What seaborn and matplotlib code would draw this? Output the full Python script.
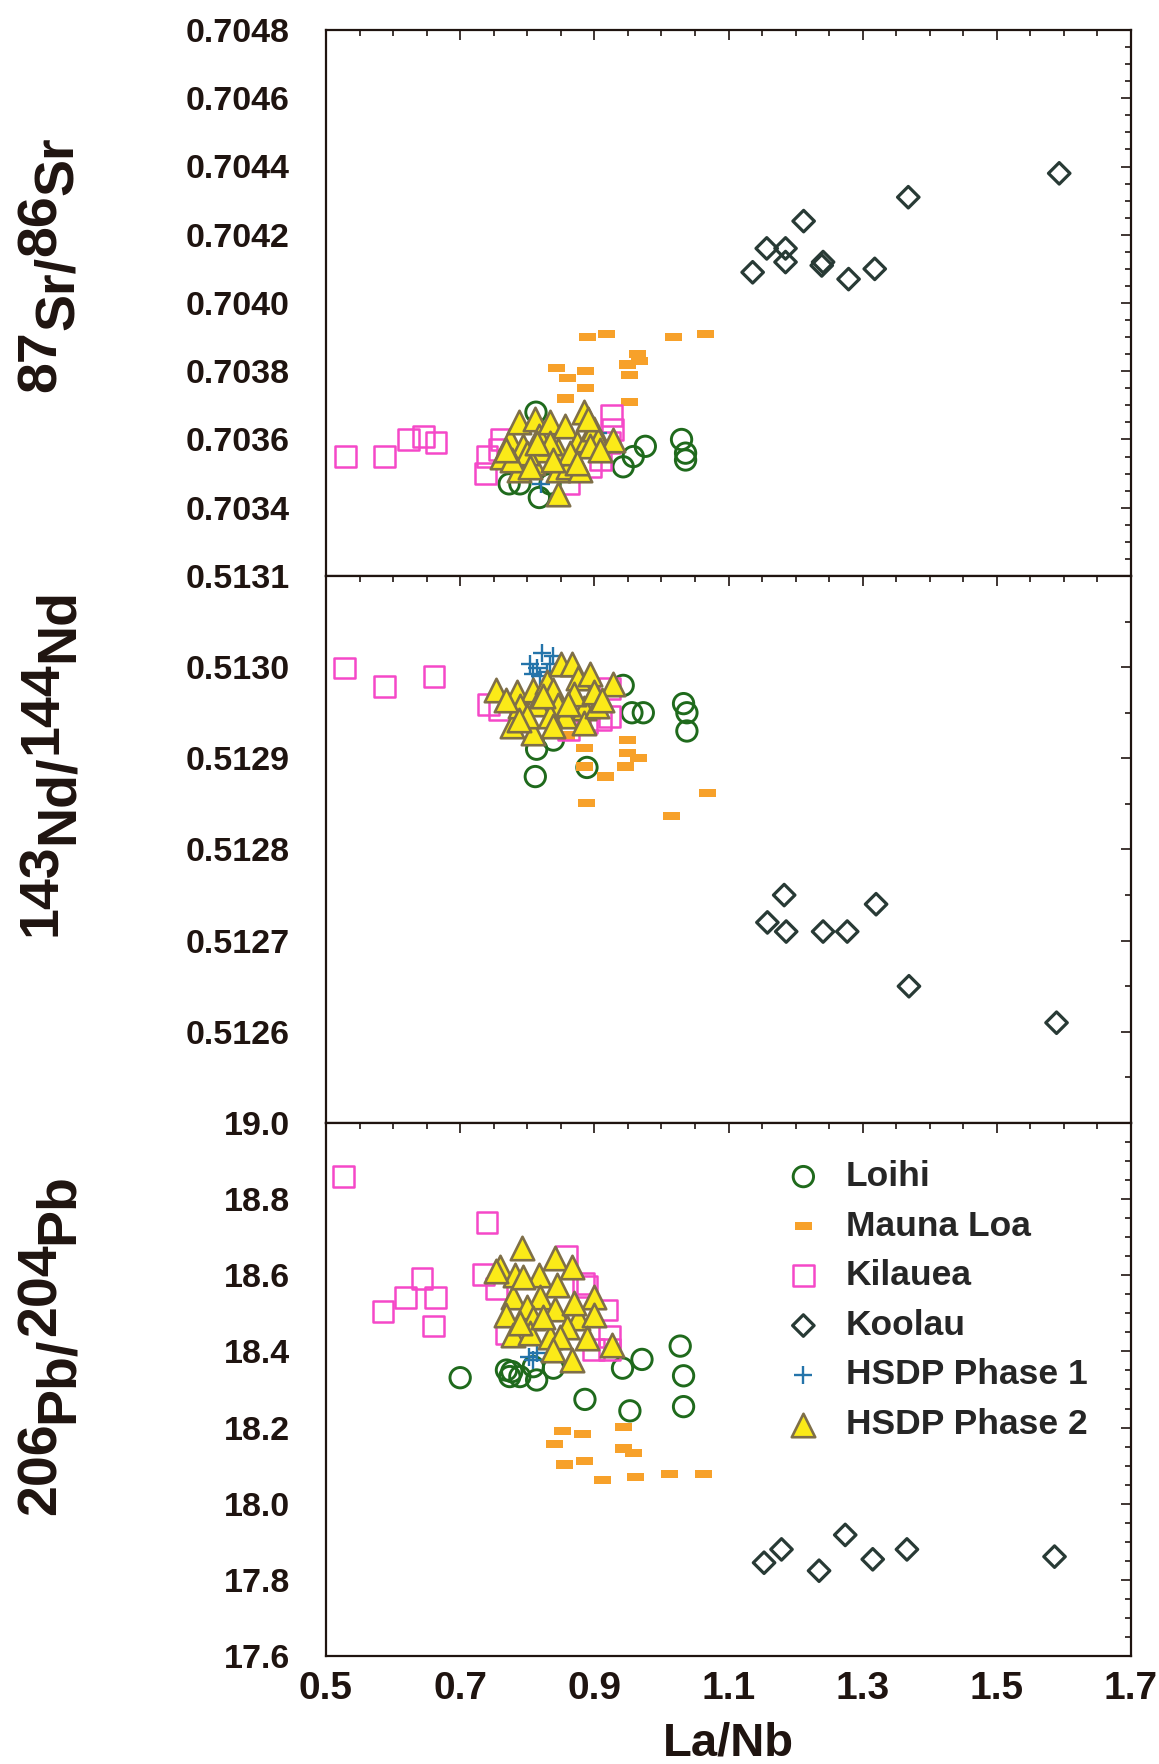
import numpy as np
import pandas as pd
import matplotlib
matplotlib.use("Agg")
import matplotlib.pyplot as plt
import seaborn as sns
from matplotlib import font_manager
from matplotlib.ticker import MultipleLocator, FixedLocator, FuncFormatter

# ---------------- 87Sr/86Sr vs La/Nb ----------------
loihi_sr_lanb = [0.813, 0.773, 0.789, 0.818, 0.834, 0.943, 0.958, 0.976, 1.030, 1.036, 1.036]
loihi_sr = [0.70368, 0.70347, 0.70347, 0.70343, 0.70347, 0.70352, 0.70355, 0.70358, 0.70360, 0.70356, 0.70354]

maunaloa_sr_lanb = [0.918, 0.890, 1.018, 1.066, 0.964, 0.967, 0.949, 0.952, 0.844, 0.887, 0.860, 0.887, 0.857, 0.952]
maunaloa_sr = [0.70391, 0.70390, 0.70390, 0.70391, 0.70385, 0.70383, 0.70382, 0.70379, 0.70381, 0.70380,
               0.70378, 0.70375, 0.70372, 0.70371]

kilauea_sr_lanb = [0.529, 0.587, 0.623, 0.645, 0.664, 0.740, 0.738, 0.762, 0.926, 0.927, 0.923, 0.909, 0.894,
                   0.861, 0.759]
kilauea_sr = [0.70355, 0.70355, 0.70360, 0.70361, 0.70359, 0.70355, 0.70350, 0.70360, 0.70367, 0.70363, 0.70359,
              0.70354, 0.70352, 0.70347, 0.70357]

koolau_sr_lanb = [1.136, 1.157, 1.185, 1.185, 1.212, 1.239, 1.241, 1.279, 1.318, 1.368, 1.593]
koolau_sr = [0.70409, 0.70416, 0.70416, 0.70412, 0.70424, 0.70411, 0.70412, 0.70407, 0.70410, 0.70431, 0.70438]

hsdp1_sr_lanb = [0.821, 0.905]
hsdp1_sr = [0.70347, 0.70362]

hsdp2_sr_lanb = [0.762, 0.774, 0.787, 0.794, 0.812, 0.817, 0.809, 0.787, 0.834, 0.856, 0.846, 0.874, 0.884,
                 0.889, 0.899, 0.906, 0.928, 0.846, 0.861, 0.879, 0.846, 0.819, 0.834, 0.864, 0.799, 0.777,
                 0.804, 0.894, 0.909, 0.874, 0.839, 0.891, 0.814, 0.769]
hsdp2_sr = [0.70355, 0.70360, 0.70365, 0.70358, 0.70366, 0.70361, 0.70353, 0.70351, 0.70365, 0.70364, 0.70357,
            0.70359, 0.70368, 0.70360, 0.70363, 0.70360, 0.70360, 0.70351, 0.70352, 0.70351, 0.70344, 0.70357,
            0.70359, 0.70356, 0.70356, 0.70354, 0.70352, 0.70358, 0.70357, 0.70353, 0.70354, 0.70366, 0.70359,
            0.70357]

# ---------------- 143Nd/144Nd vs La/Nb ----------------
loihi_nd_lanb = [0.943, 0.956, 0.973, 1.033, 1.038, 1.038, 0.839, 0.814, 0.812, 0.889]
loihi_nd = [0.51298, 0.51295, 0.51295, 0.51296, 0.51295, 0.51293, 0.51292, 0.51291, 0.51288, 0.51289]

maunaloa_nd_lanb = [0.859, 0.886, 0.949, 0.949, 0.966, 0.946, 0.886, 0.916, 0.888, 1.068, 1.015]
maunaloa_nd = [0.512925, 0.512911, 0.512920, 0.512906, 0.512900, 0.512891, 0.512891, 0.512880, 0.512851,
               0.512862, 0.512837]

kilauea_nd_lanb = [0.528, 0.587, 0.661, 0.742, 0.923, 0.923, 0.909, 0.889, 0.759, 0.861]
kilauea_nd = [0.512999, 0.512979, 0.512990, 0.512959, 0.512977, 0.512946, 0.512942, 0.512939, 0.512953, 0.512931]

koolau_nd_lanb = [1.183, 1.158, 1.186, 1.241, 1.277, 1.320, 1.369, 1.589]
koolau_nd = [0.51275, 0.51272, 0.51271, 0.51271, 0.51271, 0.51274, 0.51265, 0.51261]

hsdp1_nd_lanb = [0.822, 0.804, 0.814, 0.834, 0.809, 0.829, 0.839, 0.819]
hsdp1_nd = [0.513015, 0.513003, 0.512999, 0.513004, 0.512993, 0.512995, 0.513012, 0.512990]

hsdp2_nd_lanb = [0.754, 0.784, 0.809, 0.829, 0.851, 0.866, 0.876, 0.894, 0.928, 0.839, 0.814, 0.846, 0.884,
                 0.777, 0.809, 0.856, 0.884, 0.904, 0.789, 0.834, 0.769, 0.799, 0.869, 0.899, 0.911, 0.824,
                 0.861, 0.787, 0.839]
hsdp2_nd = [0.512975, 0.512973, 0.512975, 0.512984, 0.513004, 0.513004, 0.512988, 0.512993, 0.512982, 0.512975,
            0.512960, 0.512959, 0.512955, 0.512935, 0.512928, 0.512946, 0.512939, 0.512957, 0.512957, 0.512946,
            0.512964, 0.512946, 0.512971, 0.512973, 0.512964, 0.512968, 0.512960, 0.512942, 0.512935]

# ---------------- 206Pb/204Pb vs La/Nb ----------------
loihi_pb_lanb = [0.700, 0.769, 0.774, 0.777, 0.789, 0.814, 0.839, 0.886, 0.942, 0.971, 0.953, 1.028, 1.033,
                 1.033, 0.809]
loihi_pb = [18.331, 18.351, 18.334, 18.347, 18.334, 18.325, 18.356, 18.274, 18.356, 18.379, 18.244, 18.414,
            18.336, 18.255, 18.360]

maunaloa_pb_lanb = [0.853, 0.883, 0.944, 0.841, 0.943, 0.959, 0.856, 0.886, 0.912, 0.962, 1.012, 1.063]
maunaloa_pb = [18.191, 18.183, 18.201, 18.156, 18.145, 18.134, 18.103, 18.112, 18.062, 18.071, 18.078, 18.077]

kilauea_pb_lanb = [0.526, 0.740, 0.735, 0.643, 0.619, 0.663, 0.585, 0.660, 0.858, 0.889, 0.918, 0.923, 0.923,
                   0.754, 0.769, 0.899, 0.884]
kilauea_pb = [18.859, 18.738, 18.603, 18.592, 18.541, 18.541, 18.504, 18.467, 18.649, 18.570, 18.509, 18.439,
              18.404, 18.566, 18.448, 18.404, 18.579]

koolau_pb_lanb = [1.153, 1.179, 1.235, 1.274, 1.315, 1.366, 1.586]
koolau_pb = [17.845, 17.880, 17.824, 17.918, 17.854, 17.880, 17.861]

hsdp1_pb_lanb = [0.802, 0.814, 0.809]
hsdp1_pb = [18.386, 18.395, 18.377]

hsdp2_pb_lanb = [0.792, 0.759, 0.782, 0.817, 0.841, 0.866, 0.844, 0.779, 0.819, 0.899, 0.799, 0.841, 0.876,
                 0.899, 0.769, 0.809, 0.859, 0.889, 0.779, 0.804, 0.834, 0.926, 0.866, 0.794, 0.754, 0.824,
                 0.849, 0.869, 0.789, 0.839]
hsdp2_pb = [18.671, 18.623, 18.601, 18.601, 18.645, 18.623, 18.575, 18.544, 18.544, 18.544, 18.518, 18.511,
            18.487, 18.496, 18.496, 18.487, 18.465, 18.434, 18.443, 18.448, 18.439, 18.417, 18.378, 18.596,
            18.610, 18.491, 18.439, 18.526, 18.474, 18.404]

groups = ["Loihi", "Mauna Loa", "Kilauea", "Koolau", "HSDP Phase 1", "HSDP Phase 2"]
x_tick_labels = ["0.5", "0.7", "0.9", "1.1", "1.3", "1.5", "1.7"]

panel_data = {
    "Sr": [(loihi_sr_lanb, loihi_sr), (maunaloa_sr_lanb, maunaloa_sr), (kilauea_sr_lanb, kilauea_sr),
           (koolau_sr_lanb, koolau_sr), (hsdp1_sr_lanb, hsdp1_sr), (hsdp2_sr_lanb, hsdp2_sr)],
    "Nd": [(loihi_nd_lanb, loihi_nd), (maunaloa_nd_lanb, maunaloa_nd), (kilauea_nd_lanb, kilauea_nd),
           (koolau_nd_lanb, koolau_nd), (hsdp1_nd_lanb, hsdp1_nd), (hsdp2_nd_lanb, hsdp2_nd)],
    "Pb": [(loihi_pb_lanb, loihi_pb), (maunaloa_pb_lanb, maunaloa_pb), (kilauea_pb_lanb, kilauea_pb),
           (koolau_pb_lanb, koolau_pb), (hsdp1_pb_lanb, hsdp1_pb), (hsdp2_pb_lanb, hsdp2_pb)],
}

rows = []
for panel, series in panel_data.items():
    for grp, (xs, ys) in zip(groups, series):
        for xv, yv in zip(xs, ys):
            rows.append({"panel": panel, "group": grp, "La/Nb": xv, "ratio": yv})
df = pd.DataFrame(rows)

# ---------------- styling ----------------
sns.set_style("white")
avail = {f.name for f in font_manager.fontManager.ttflist}
BASE = "Liberation Sans" if "Liberation Sans" in avail else "DejaVu Sans"
NARROW = "Liberation Sans Narrow" if "Liberation Sans Narrow" in avail else BASE
plt.rcParams["font.family"] = [BASE, "DejaVu Sans"]
plt.rcParams["font.weight"] = "bold"

INK = "#1f1410"
dash_marker = [(-1, -0.48), (1, -0.48), (1, 0.48), (-1, 0.48), (-1, -0.48)]
styles = {
    "Loihi": dict(marker="o", s=215, facecolor="none", edgecolor="#1f6a1c", linewidth=2.1),
    "Mauna Loa": dict(marker=dash_marker, s=150, color="#f7a12a", edgecolor="none", linewidth=0),
    "Kilauea": dict(marker="s", s=225, facecolor="none", edgecolor="#f548c8", linewidth=1.8),
    "Koolau": dict(marker="D", s=120, facecolor="none", edgecolor="#283a35", linewidth=2.3),
    "HSDP Phase 1": dict(marker="+", s=160, color="#2474aa", linewidth=1.7),
    "HSDP Phase 2": dict(marker="^", s=285, facecolor="#fbea18", edgecolor="#7f6f48", linewidth=1.9),
}

W, H = 1159, 1764
fig = plt.figure(figsize=(W / 100, H / 100), dpi=100)
fig.patch.set_facecolor("white")

left, right = 326, 1131
panel_px = {"Sr": (30, 576), "Nd": (576, 1123), "Pb": (1123, 1656)}
ylims = {"Sr": (0.7032, 0.7048), "Nd": (0.5125, 0.5131), "Pb": (17.6, 19.0)}
ymajor = {"Sr": 0.0002, "Nd": 0.0001, "Pb": 0.2}
yminor = {"Sr": 0.00005, "Nd": 0.00005, "Pb": 0.05}
yfmt = {"Sr": "{:.4f}", "Nd": "{:.4f}", "Pb": "{:.1f}"}

axes = {}
for panel, (top, bottom) in panel_px.items():
    ax = fig.add_axes([left / W, 1 - bottom / H, (right - left) / W, (bottom - top) / H])
    axes[panel] = ax
    sub = df[df["panel"] == panel]
    for grp in groups:
        gdf = sub[sub["group"] == grp]
        sns.scatterplot(data=gdf, x="La/Nb", y="ratio", ax=ax, label=grp if panel == "Pb" else None,
                        legend=False, zorder=3, **styles[grp])

    lo, hi = ylims[panel]
    ax.set_xlim(0.5, 1.7)
    ax.set_ylim(lo, hi)
    ax.xaxis.set_major_locator(FixedLocator([float(t) for t in x_tick_labels]))
    ax.xaxis.set_minor_locator(MultipleLocator(0.05))
    ax.yaxis.set_major_locator(MultipleLocator(ymajor[panel]))
    ax.yaxis.set_minor_locator(MultipleLocator(yminor[panel]))
    fmt = yfmt[panel]
    if panel == "Pb":
        ax.yaxis.set_major_formatter(FuncFormatter(lambda v, p: "{:.1f}".format(v)))
        ax.set_xticklabels(x_tick_labels, fontsize=28, fontweight="bold", family=NARROW)
    else:
        # the lowest value is left unlabelled; the panel below labels that edge
        ax.yaxis.set_major_formatter(FuncFormatter(
            lambda v, p, lo=lo, fmt=fmt: "" if abs(v - lo) < 1e-9 else fmt.format(v)))
        ax.tick_params(axis="x", labelbottom=False)

    ax.tick_params(which="both", direction="in", top=True, right=True, colors=INK, width=1.2)
    ax.tick_params(which="major", length=7)
    ax.tick_params(which="minor", length=4.5)
    ax.tick_params(axis="y", which="major", labelsize=24.5, pad=26)
    ax.tick_params(axis="x", which="major", pad=11)
    for lab in ax.get_yticklabels():
        lab.set_fontweight("bold")
    for sp in ax.spines.values():
        sp.set_color(INK)
        sp.set_linewidth(1.6)
    ax.set_xlabel("")
    ax.set_ylabel("")
    ax.set_facecolor("white")

# legend inside the Pb panel
leg = axes["Pb"].legend(loc="upper left", bbox_to_anchor=(0.549, 0.964), frameon=False, borderpad=0,
                        handlelength=1.0, handletextpad=0.7, labelspacing=0.47, scatterpoints=1,
                        prop=dict(size=25.5, weight="bold", family=BASE))

# x axis title
fig.text((left + right) / 2 / W, 1 - 1744 / H, "La/Nb", ha="center", va="center",
         fontsize=34, fontweight="bold", family=NARROW, color=INK)


def isotope_label(pieces, x_base, y_center, size=40, rise=17):
    """Rotated label where mass numbers sit raised in front of element symbols."""
    renderer = fig.canvas.get_renderer()
    fp = font_manager.FontProperties(family=BASE, weight="bold", size=size)
    widths = [renderer.get_text_width_height_descent(t, fp, ismath=False)[0] for t, _ in pieces]
    y = (H - y_center) - sum(widths) / 2
    for (t, raised), w in zip(pieces, widths):
        x = x_base - (rise if raised else 0)
        fig.text(x / W, y / H, t, rotation=90, rotation_mode="anchor", ha="left", va="baseline",
                 fontproperties=fp, color=INK)
        y += w


isotope_label([("87", True), ("Sr/", False), ("86", True), ("Sr", False)], 73, 264)
isotope_label([("143", True), ("Nd/", False), ("144", True), ("Nd", False)], 73, 762)
isotope_label([("206", True), ("Pb/", False), ("204", True), ("Pb", False)], 73, 1344)

fig.savefig("out.png", dpi=100, facecolor="white")
